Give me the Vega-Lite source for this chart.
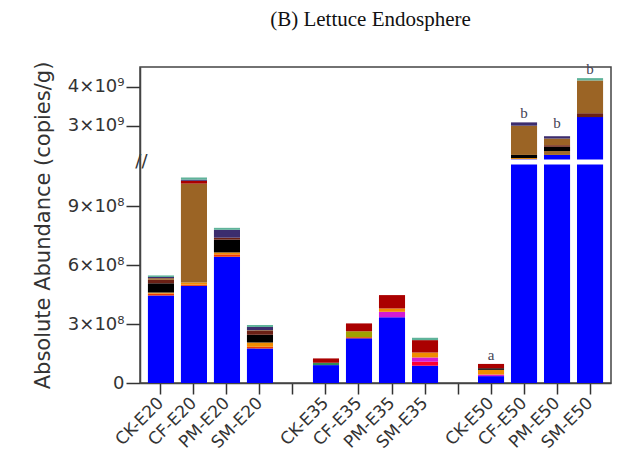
{
  "$schema": "https://vega.github.io/schema/vega-lite/v6.json",
  "autosize": {"type": "none"},
  "width": 471,
  "height": 316,
  "padding": {"left": 140, "top": 67, "right": 20, "bottom": 84},
  "background": "white",
  "title": {"text": "(B) Lettuce Endosphere", "font": "Liberation Serif", "fontSize": 21, "fontWeight": "normal", "color": "#111", "anchor": "middle", "baseline": "alphabetic", "offset": 14, "dx": -5},
  "config": {"view": {"stroke": "#444", "strokeWidth": 1.5}},
  "datasets": {
    "abund": [
      {"sample": "CK-E20", "taxon": "T01", "value": 4.45e8},
      {"sample": "CK-E20", "taxon": "T04", "value": 9e6},
      {"sample": "CK-E20", "taxon": "T06", "value": 6e6},
      {"sample": "CK-E20", "taxon": "T09", "value": 4.7e7},
      {"sample": "CK-E20", "taxon": "T10", "value": 1.8e7},
      {"sample": "CK-E20", "taxon": "T11", "value": 8e6},
      {"sample": "CK-E20", "taxon": "T13", "value": 6e6},
      {"sample": "CK-E20", "taxon": "T14", "value": 8e6},
      {"sample": "CF-E20", "taxon": "T01", "value": 4.94e8},
      {"sample": "CF-E20", "taxon": "T04", "value": 6e6},
      {"sample": "CF-E20", "taxon": "T06", "value": 1.1e7},
      {"sample": "CF-E20", "taxon": "T11", "value": 5.03e8},
      {"sample": "CF-E20", "taxon": "T12", "value": 1.4e7},
      {"sample": "CF-E20", "taxon": "T13", "value": 6e6},
      {"sample": "CF-E20", "taxon": "T14", "value": 1.1e7},
      {"sample": "PM-E20", "taxon": "T01", "value": 6.42e8},
      {"sample": "PM-E20", "taxon": "T04", "value": 1.2e7},
      {"sample": "PM-E20", "taxon": "T06", "value": 1.0e7},
      {"sample": "PM-E20", "taxon": "T09", "value": 6.5e7},
      {"sample": "PM-E20", "taxon": "T10", "value": 1.0e7},
      {"sample": "PM-E20", "taxon": "T13", "value": 4.0e7},
      {"sample": "PM-E20", "taxon": "T14", "value": 1.0e7},
      {"sample": "SM-E20", "taxon": "T01", "value": 1.76e8},
      {"sample": "SM-E20", "taxon": "T04", "value": 8e6},
      {"sample": "SM-E20", "taxon": "T06", "value": 2.2e7},
      {"sample": "SM-E20", "taxon": "T09", "value": 3.9e7},
      {"sample": "SM-E20", "taxon": "T10", "value": 2.0e7},
      {"sample": "SM-E20", "taxon": "T11", "value": 3e6},
      {"sample": "SM-E20", "taxon": "T13", "value": 1.7e7},
      {"sample": "SM-E20", "taxon": "T14", "value": 1.0e7},
      {"sample": "CK-E35", "taxon": "T01", "value": 9.1e7},
      {"sample": "CK-E35", "taxon": "T02", "value": 1.2e7},
      {"sample": "CK-E35", "taxon": "T12", "value": 2.2e7},
      {"sample": "CF-E35", "taxon": "T01", "value": 2.27e8},
      {"sample": "CF-E35", "taxon": "T04", "value": 6e6},
      {"sample": "CF-E35", "taxon": "T07", "value": 3.0e7},
      {"sample": "CF-E35", "taxon": "T12", "value": 4.0e7},
      {"sample": "PM-E35", "taxon": "T01", "value": 3.34e8},
      {"sample": "PM-E35", "taxon": "T05", "value": 2.8e7},
      {"sample": "PM-E35", "taxon": "T06", "value": 1.7e7},
      {"sample": "PM-E35", "taxon": "T12", "value": 6.8e7},
      {"sample": "SM-E35", "taxon": "T01", "value": 8.8e7},
      {"sample": "SM-E35", "taxon": "T03", "value": 2.0e7},
      {"sample": "SM-E35", "taxon": "T05", "value": 2.2e7},
      {"sample": "SM-E35", "taxon": "T06", "value": 2.5e7},
      {"sample": "SM-E35", "taxon": "T12", "value": 6.3e7},
      {"sample": "SM-E35", "taxon": "T14", "value": 1.2e7},
      {"sample": "CK-E50", "taxon": "T01", "value": 3.5e7},
      {"sample": "CK-E50", "taxon": "T05", "value": 8e6},
      {"sample": "CK-E50", "taxon": "T06", "value": 2.4e7},
      {"sample": "CK-E50", "taxon": "T09", "value": 8e6},
      {"sample": "CK-E50", "taxon": "T12", "value": 2.2e7},
      {"sample": "CF-E50", "taxon": "T01", "value": 2.12e9},
      {"sample": "CF-E50", "taxon": "T06", "value": 5.0e7},
      {"sample": "CF-E50", "taxon": "T09", "value": 8.0e7},
      {"sample": "CF-E50", "taxon": "T11", "value": 7.5e8},
      {"sample": "CF-E50", "taxon": "T13", "value": 8.5e7},
      {"sample": "PM-E50", "taxon": "T01", "value": 2.25e9},
      {"sample": "PM-E50", "taxon": "T08", "value": 1.0e8},
      {"sample": "PM-E50", "taxon": "T09", "value": 1.1e8},
      {"sample": "PM-E50", "taxon": "T10", "value": 4.0e7},
      {"sample": "PM-E50", "taxon": "T11", "value": 1.7e8},
      {"sample": "PM-E50", "taxon": "T13", "value": 6.0e7},
      {"sample": "SM-E50", "taxon": "T01", "value": 3.22e9},
      {"sample": "SM-E50", "taxon": "T10", "value": 1.0e8},
      {"sample": "SM-E50", "taxon": "T11", "value": 8.4e8},
      {"sample": "SM-E50", "taxon": "T14", "value": 6.0e7}
    ],
    "letters": [
      {"sample": "CK-E50", "letter": "a", "total": 9.7e7},
      {"sample": "CF-E50", "letter": "b", "total": 3.085e9},
      {"sample": "PM-E50", "letter": "b", "total": 2.83e9},
      {"sample": "SM-E50", "letter": "b", "total": 4.22e9}
    ],
    "breaks": [
      {"sample": "CF-E50", "value": 1.63e9},
      {"sample": "PM-E50", "value": 1.63e9},
      {"sample": "SM-E50", "value": 1.63e9}
    ]
  },
  "layer": [
    {
      "data": {"name": "abund"},
      "mark": {"type": "bar"},
      "encoding": {
        "x": {
          "field": "sample", "type": "nominal",
          "scale": {"domain": ["CK-E20", "CF-E20", "PM-E20", "SM-E20", "gap1", "CK-E35", "CF-E35", "PM-E35", "SM-E35", "gap2", "CK-E50", "CF-E50", "PM-E50", "SM-E50"], "paddingInner": 0.21, "paddingOuter": 0.24},
          "axis": {
            "title": null,
            "labelExpr": "indexof(datum.value, 'gap') == 0 ? '' : datum.value",
            "labelAngle": -45,
            "labelAlign": "right",
            "labelBaseline": "middle",
            "labelFont": "DejaVu Sans",
            "labelFontSize": 17,
            "labelColor": "#333",
            "labelPadding": 6,
            "tickSize": 11,
            "tickWidth": 1.5,
            "tickColor": "#333",
            "domainColor": "#444",
            "domainWidth": 1.5
          }
        },
        "y": {
          "field": "value", "type": "quantitative", "stack": "zero",
          "scale": {"domain": [0, 1.1085e9, 2.146e9, 4.505e9], "range": [316, 98, 92, 0], "nice": false, "zero": false},
          "axis": {
            "title": "Absolute Abundance (copies/g)",
            "titleFont": "DejaVu Sans",
            "titleFontSize": 21,
            "titleFontWeight": "normal",
            "titleColor": "#333",
            "titlePadding": 14,
            "values": [0, 3e8, 6e8, 9e8, 1.63e9, 3e9, 4e9],
            "labelExpr": "datum.value == 0 ? '0' : datum.value < 1e9 ? (datum.value / 1e8) + '×10⁸' : datum.value > 2.5e9 ? (datum.value / 1e9) + '×10⁹' : '//'",
            "labelFont": "DejaVu Sans",
            "labelFontSize": 18,
            "labelColor": "#333",
            "labelPadding": {"condition": {"test": "datum.value > 1.2e9 && datum.value < 2e9", "value": -7}, "value": 2},
            "tickSize": {"condition": {"test": "datum.value > 1.2e9 && datum.value < 2e9", "value": 0}, "value": 14},
            "tickWidth": 1.5,
            "tickColor": "#333",
            "domainColor": "#444",
            "domainWidth": 1.5,
            "grid": false
          }
        },
        "color": {
          "field": "taxon", "type": "nominal", "legend": null,
          "scale": {
            "domain": ["T01", "T02", "T03", "T04", "T05", "T06", "T07", "T08", "T09", "T10", "T11", "T12", "T13", "T14"],
            "range": ["#0000FF", "#2E8B57", "#FF0033", "#F03A00", "#D41BD4", "#F08C00", "#A0A000", "#A36A28", "#000000", "#6A2015", "#9B6425", "#AA0000", "#3C2D6E", "#5FB39A"]
          }
        },
        "order": {"field": "taxon", "sort": "ascending"}
      }
    },
    {
      "data": {"name": "breaks"},
      "mark": {"type": "tick", "color": "white", "thickness": 5, "size": 32, "opacity": 1},
      "encoding": {
        "x": {"field": "sample", "type": "nominal"},
        "y": {"field": "value", "type": "quantitative", "scale": {"domain": [0, 1.1085e9, 2.146e9, 4.505e9], "range": [316, 98, 92, 0], "nice": false, "zero": false}}
      }
    },
    {
      "data": {"name": "letters"},
      "mark": {"type": "text", "font": "Liberation Serif", "fontSize": 15, "color": "#445", "dy": -9, "baseline": "middle"},
      "encoding": {
        "x": {"field": "sample", "type": "nominal"},
        "y": {"field": "total", "type": "quantitative", "scale": {"domain": [0, 1.1085e9, 2.146e9, 4.505e9], "range": [316, 98, 92, 0], "nice": false, "zero": false}},
        "text": {"field": "letter"}
      }
    }
  ]
}
